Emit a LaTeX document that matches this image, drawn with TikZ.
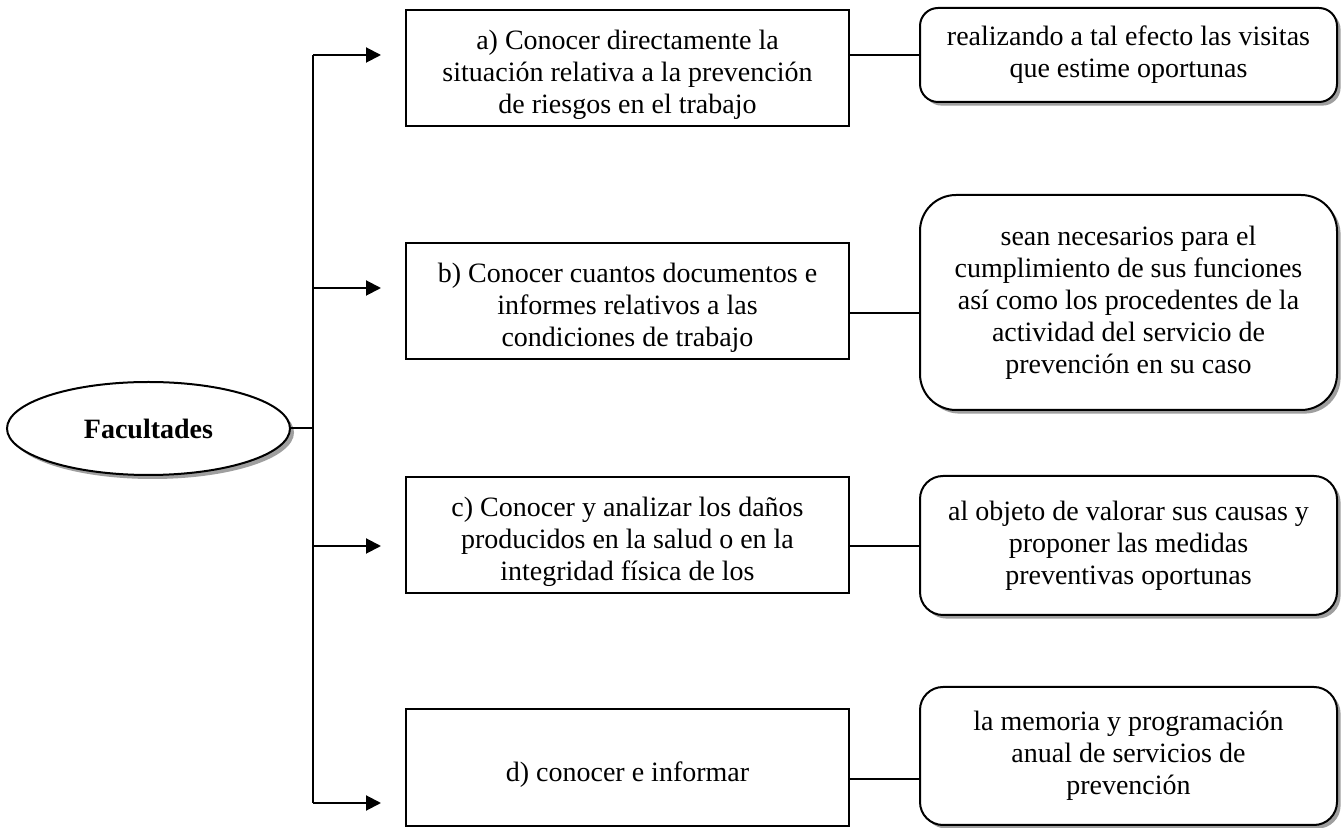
\documentclass[tikz,border=0pt]{standalone}
\usepackage{fontspec}
\setmainfont{Liberation Serif}
\usetikzlibrary{shapes.geometric,shadows,arrows.meta}
\begin{document}
\begin{tikzpicture}[x=0.5pt,y=-0.5pt,
  every node/.style={font=\fontsize{14}{16}\selectfont},
  lbox/.style={draw, line width=1pt, rectangle, inner sep=0pt, minimum width=221.5pt, align=center},
  ltext/.style={label={[align=center, yshift=-3.5pt]center:#1}},
  rbox/.style={draw, line width=1pt, rounded corners=#1, fill=white, inner sep=0pt,
    minimum width=208.5pt, align=center,
    drop shadow={shadow xshift=1.8pt, shadow yshift=-1.8pt, fill=gray!75, opacity=1}},
  link/.style={line width=1pt},
  arr/.style={line width=1pt, -{Triangle[length=7.5pt,width=7.5pt]}, shorten >=12pt}
]
\useasboundingbox (0,0) rectangle (1341,828);
\fill[white] (0,0) rectangle (1341,828);

% main ellipse
\node[ellipse, draw, line width=1pt, fill=white, inner sep=0pt,
  minimum width=141.5pt, minimum height=46.5pt,
  drop shadow={shadow xshift=2pt, shadow yshift=-2pt, fill=gray!75, opacity=1},
  font=\fontsize{14}{16}\selectfont\bfseries] (fac) at (148.5,428.5) {Facultades};

% left boxes
\node[lbox, minimum height=58pt, ltext={a) Conocer directamente la\\situación relativa a la prevención\\de riesgos en el trabajo}] (ba) at (627.5,68) {};
\node[lbox, minimum height=58pt, ltext={b) Conocer cuantos documentos e\\informes relativos a las\\condiciones de trabajo}] (bb) at (627.5,301) {};
\node[lbox, minimum height=58pt, ltext={c) Conocer y analizar los daños\\producidos en la salud o en la\\integridad física de los}] (bc) at (627.5,535) {};
\node[lbox, minimum height=58.5pt, ltext={d) conocer e informar}] (bd) at (627.5,767.5) {};

% right rounded boxes
\node[rbox=9pt, minimum height=47pt] (ra) at (1128.5,55) {realizando a tal efecto las visitas\\que estime oportunas};
\node[rbox=18pt, minimum height=107.5pt] (rb) at (1128.5,302.5) {sean necesarios para el\\cumplimiento de sus funciones\\así como los procedentes de la\\actividad del servicio de\\prevención en su caso};
\node[rbox=11.5pt, minimum height=69.5pt] (rc) at (1128.5,545.5) {al objeto de valorar sus causas y\\proponer las medidas\\preventivas oportunas};
\node[rbox=11.5pt, minimum height=69pt] (rd) at (1128.5,756) {la memoria y programación\\anual de servicios de\\prevención};

% trunk coordinates
\coordinate (ta) at (313,55);
\coordinate (tb) at (313,288);
\coordinate (tc) at (313,546);
\coordinate (td) at (313,803);
\coordinate (ya) at (0,55);
\coordinate (yb) at (0,313);
\coordinate (yc) at (0,546);
\coordinate (yd) at (0,779);

\draw[link] (ta) -- (td);
\draw[link] (fac.east) -- (fac.east -| ta);

\draw[arr] (ta) -- (ba.west |- ta);
\draw[arr] (tb) -- (bb.west |- tb);
\draw[arr] (tc) -- (bc.west |- tc);
\draw[arr] (td) -- (bd.west |- td);

\draw[link] (ba.east |- ya) -- (ra.west |- ya);
\draw[link] (bb.east |- yb) -- (rb.west |- yb);
\draw[link] (bc.east |- yc) -- (rc.west |- yc);
\draw[link] (bd.east |- yd) -- (rd.west |- yd);
\end{tikzpicture}
\end{document}
